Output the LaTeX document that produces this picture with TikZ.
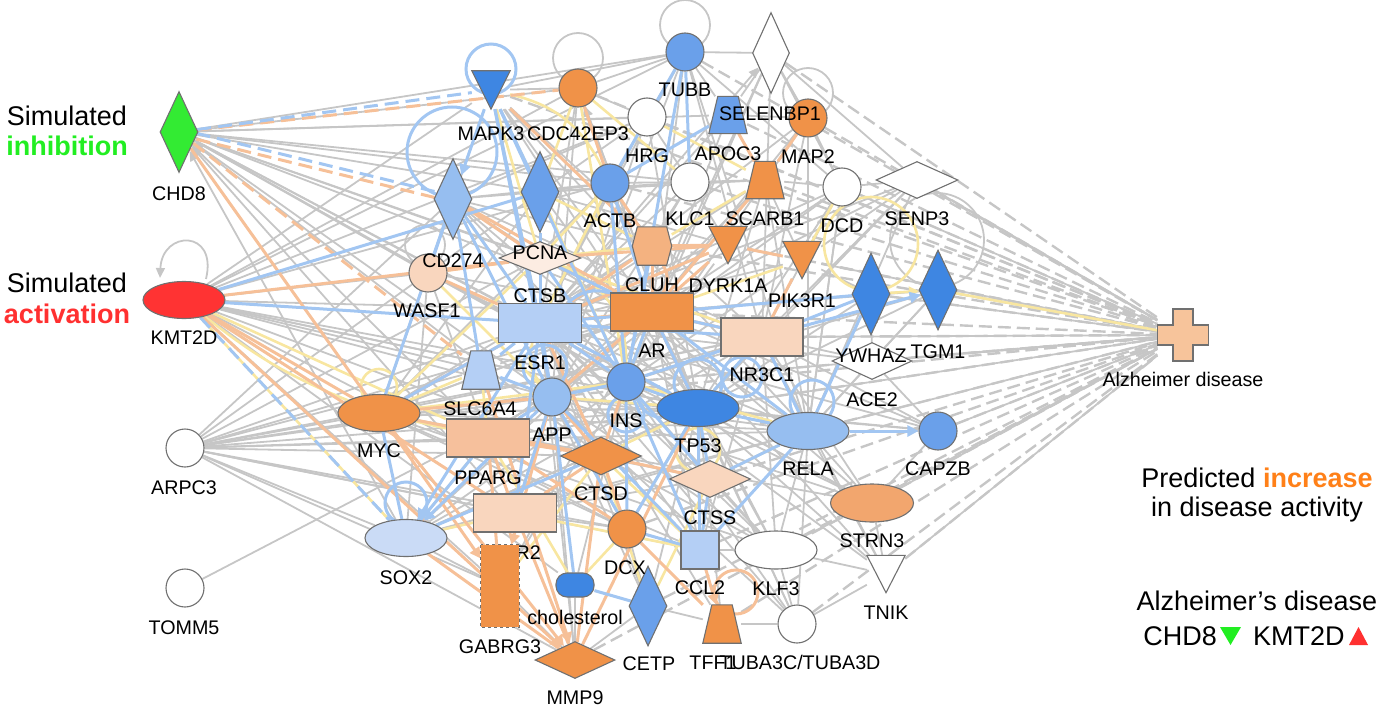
\documentclass[tikz,border=0pt]{standalone}
\usepackage{fontspec}
\setmainfont{Liberation Sans}
\usetikzlibrary{shapes.geometric,arrows.meta,backgrounds,calc}
\definecolor{eg}{RGB}{198,198,198}
\definecolor{eo}{RGB}{246,192,152}
\definecolor{eb}{RGB}{162,198,242}
\definecolor{ey}{RGB}{248,230,160}
\definecolor{ndb}{RGB}{112,112,112}
\definecolor{orD}{RGB}{240,146,72}
\definecolor{orM}{RGB}{244,178,128}
\definecolor{orS}{RGB}{242,166,110}
\definecolor{pch}{RGB}{246,192,156}
\definecolor{pcL}{RGB}{249,214,190}
\definecolor{pcV}{RGB}{252,236,226}
\definecolor{bD}{RGB}{62,134,226}
\definecolor{bM}{RGB}{106,160,234}
\definecolor{bL}{RGB}{150,190,240}
\definecolor{bV}{RGB}{180,207,245}
\definecolor{bX}{RGB}{202,219,246}
\definecolor{gN}{RGB}{51,235,51}
\definecolor{rN}{RGB}{255,51,51}
\definecolor{alzC}{RGB}{247,196,155}
\definecolor{txG}{RGB}{34,238,34}
\definecolor{txR}{RGB}{255,48,48}
\definecolor{txO}{RGB}{255,128,24}
\begin{document}
\begin{tikzpicture}[x=1bp,y=-1bp,
  nd/.style={draw=ndb, line width=1.1bp, inner sep=0pt},
  circ/.style={nd, circle, minimum size=38bp},
  ell/.style={nd, ellipse, minimum width=82bp, minimum height=37bp},
  vdia/.style={nd, diamond, minimum width=38bp, minimum height=81bp},
  hdia/.style={nd, diamond, minimum width=81bp, minimum height=37bp},
  rect/.style={nd, rectangle, minimum width=83bp, minimum height=38bp},
  box/.style={rectangle, inner sep=0pt, minimum width=38bp, minimum height=37bp},
  sh/.style={draw=ndb, line width=1.1bp, line join=miter},
  lbl/.style={font=\fontsize{19.7bp}{23bp}\selectfont, inner sep=0pt, text height=14.1bp, text depth=0pt},
  big/.style={font=\fontsize{27bp}{32bp}\selectfont, inner sep=0pt, text height=19.3bp, text depth=0pt},
  eG/.style={draw=eg, line width=1.8bp},
  eGa/.style={eG, -{Triangle[width=9bp,length=10bp]}},
  eGd/.style={draw=eg, line width=2.4bp, dash pattern=on 13bp off 6bp},
  eO/.style={draw=eo, line width=3bp},
  eOa/.style={eO, -{Triangle[width=11bp,length=11bp]}},
  eOd/.style={eO, dash pattern=on 14bp off 7bp},
  eB/.style={draw=eb, line width=3bp},
  eBa/.style={eB, -{Triangle[width=11bp,length=11bp]}},
  eBd/.style={eB, dash pattern=on 14bp off 7bp},
  eY/.style={draw=ey, line width=2.6bp},
  eYa/.style={eY, -{Triangle[width=10bp,length=10bp]}}
]
\useasboundingbox (0,0) rectangle (1384,712);
% ---------------- nodes ----------------
\node[vdia, fill=gN] (chd8) at (179,132) {};
\node[ell, fill=rN] (kmt2d) at (184,300) {};
\node[circ, fill=white] (arpc3) at (185,448) {};
\node[circ, fill=white] (tomm5) at (185,588) {};
\node[box, minimum width=51bp, minimum height=52bp] (alz) at (1183,335) {};
\node[box, minimum height=38bp] (mapk3) at (491,90) {};
\node[circ, fill=orD] (cdc) at (578,88) {};
\node[circ, fill=bM] (tubb) at (685,52) {};
\node[vdia, fill=white, minimum width=37bp] (selenbp1) at (771,53) {};
\node[box] (apoc3) at (728,115) {};
\node[circ, fill=orD] (map2) at (808,118) {};
\node[circ, fill=white] (hrg) at (647,117) {};
\node[circ, fill=bM] (actb) at (610,183) {};
\node[circ, fill=white] (klc1) at (690,182) {};
\node[box] (scarb1) at (765,180) {};
\node[circ, fill=white] (dcd) at (842,187) {};
\node[hdia, fill=white, minimum width=82bp] (senp3) at (917,180) {};
\node[vdia, fill=bL] (cd274) at (453,199) {};
\node[vdia, fill=bM] (pcna) at (540,192) {};
\node[hdia, fill=pcV, minimum width=82bp, minimum height=33bp] (ctsb) at (540,258) {};
\node[circ, fill=pcL] (wasf1) at (428,273) {};
\node[box, minimum width=39bp, minimum height=38bp] (cluh) at (652,246) {};
\node[rect, fill=orD] (ar) at (652,312) {};
\node[box] (dyrk1a) at (728,245) {};
\node[box] (pik3r1) at (802,260) {};
\node[rect, fill=pcL, minimum width=82bp] (nr3c1) at (762,337) {};
\node[vdia, fill=bD, minimum height=82bp] (ywhaz) at (871,294) {};
\node[vdia, fill=bD, minimum height=80bp] (tgm1) at (938,290) {};
\node[hdia, fill=white, minimum width=80bp] (ace2) at (872,361) {};
\node[rect, fill=bV, minimum height=39bp] (esr1) at (540,323) {};
\node[box, minimum height=38bp] (slc6a4) at (481,370) {};
\node[circ, fill=bL] (app) at (552,397) {};
\node[circ, fill=bM] (ins) at (626,382) {};
\node[ell, fill=bD] (tp53) at (698,408) {};
\node[ell, fill=orD] (myc) at (379,413) {};
\node[rect, fill=pch] (pparg) at (488,438) {};
\node[hdia, fill=orD, minimum height=38bp] (ctsd) at (601,456) {};
\node[ell, fill=bL] (rela) at (808,431) {};
\node[circ, fill=bM] (capzb) at (938,431) {};
\node[hdia, fill=pcL] (ctss) at (710,479) {};
\node[rect, fill=pcL] (esr2) at (515,513) {};
\node[ell, fill=orS, minimum width=83bp, minimum height=38bp] (strn3) at (872,503) {};
\node[ell, fill=bX] (sox2) at (406,538) {};
\node[circ, fill=orD] (dcx) at (627,529) {};
\node[nd, rectangle, minimum size=38bp, fill=bV] (ccl2) at (700,550) {};
\node[ell, fill=white, minimum height=38bp] (klf3) at (776,550) {};
\node[box] (tnik) at (886,574) {};
\node[rectangle, inner sep=0pt, minimum width=38bp, minimum height=82bp] (gabrg3) at (500,586) {};
\node[nd, rectangle, rounded corners=11bp, minimum width=38bp, minimum height=24bp, fill=bD] (chol) at (575,585) {};
\node[vdia, fill=bM, minimum height=80bp] (cetp) at (648,606) {};
\node[box, minimum height=38bp] (tff1) at (722,624) {};
\node[circ, fill=white] (tuba) at (797,624) {};
\node[hdia, fill=orD, minimum width=80bp] (mmp9) at (575,660) {};
% ---------------- edges ----------------
\begin{scope}[on background layer]
% gray solid
\foreach \a/\b in {chd8/tubb,chd8/cdc,chd8/hrg,chd8/actb,chd8/klc1,chd8/apoc3,chd8/pcna,chd8/ctsb,chd8/esr1,chd8/ins,chd8/ar,chd8/tp53,chd8/nr3c1,chd8/wasf1,chd8/pparg,
 kmt2d/mapk3,kmt2d/cdc,kmt2d/tubb,kmt2d/actb,kmt2d/hrg,kmt2d/ar,kmt2d/ins,kmt2d/app,kmt2d/tp53,kmt2d/nr3c1,kmt2d/esr2,kmt2d/ctsd,kmt2d/wasf1,kmt2d/gabrg3,kmt2d/rela,kmt2d/dcx,kmt2d/chol,kmt2d/slc6a4,kmt2d/cluh,
 arpc3/cd274,arpc3/wasf1,arpc3/ctsb,arpc3/esr1,arpc3/slc6a4,arpc3/myc,arpc3/app,arpc3/ins,arpc3/pparg,arpc3/ctsd,arpc3/tp53,arpc3/esr2,arpc3/sox2,arpc3/rela,arpc3/dcx,arpc3/ar,arpc3/ccl2,arpc3/nr3c1,arpc3/gabrg3,arpc3/mmp9,
 tomm5/app,
 esr1/mapk3,esr1/cdc,esr1/tubb,esr1/hrg,esr1/actb,esr1/klc1,esr1/apoc3,esr1/scarb1,esr1/map2,esr1/dyrk1a,esr1/pik3r1,esr1/dcd,esr1/ace2,esr1/ctss,esr1/ccl2,esr1/klf3,esr1/strn3,esr1/dcx,esr1/cetp,esr1/mmp9,esr1/tff1,esr1/tuba,esr1/capzb,esr1/rela,esr1/senp3,
 ar/mapk3,ar/tubb,ar/selenbp1,ar/map2,ar/dcd,ar/senp3,ar/ywhaz,ar/tgm1,ar/rela,ar/capzb,ar/strn3,ar/tnik,ar/klf3,ar/tuba,ar/ccl2,ar/sox2,ar/myc,ar/cd274,ar/wasf1,ar/gabrg3,ar/slc6a4,
 tp53/mapk3,tp53/cdc,tp53/hrg,tp53/actb,tp53/scarb1,tp53/dcd,tp53/senp3,tp53/ywhaz,tp53/tgm1,tp53/capzb,tp53/strn3,tp53/tnik,tp53/klf3,tp53/sox2,tp53/myc,tp53/cd274,tp53/pcna,tp53/wasf1,tp53/cetp,tp53/tff1,tp53/tuba,
 ins/tubb,ins/map2,ins/selenbp1,ins/apoc3,ins/dyrk1a,ins/pik3r1,ins/tgm1,ins/strn3,ins/tnik,ins/klf3,ins/tuba,ins/sox2,ins/cd274,ins/gabrg3,ins/chol,
 app/mapk3,app/cdc,app/hrg,app/tubb,app/klc1,app/scarb1,app/dcd,app/nr3c1,app/rela,app/capzb,app/strn3,app/klf3,app/tuba,app/mmp9,app/cetp,
 myc/mapk3,myc/cd274,myc/pcna,myc/actb,myc/cluh,myc/ar,myc/nr3c1,myc/tp53,myc/rela,myc/ccl2,myc/dcx,myc/ctss,myc/klf3,myc/strn3,
 rela/mapk3,rela/tubb,rela/map2,rela/scarb1,rela/dcd,rela/senp3,rela/ywhaz,rela/tgm1,rela/strn3,rela/tnik,rela/klf3,rela/tuba,rela/ccl2,rela/ctss,rela/sox2,rela/cd274,
 nr3c1/mapk3,nr3c1/tubb,nr3c1/selenbp1,nr3c1/map2,nr3c1/dcd,nr3c1/senp3,nr3c1/tgm1,nr3c1/ace2,nr3c1/capzb,nr3c1/strn3,nr3c1/tnik,nr3c1/klf3,nr3c1/ccl2,nr3c1/sox2,
 cd274/ctsb,cd274/pcna,cd274/actb,cd274/hrg,cd274/cluh,cd274/nr3c1,pcna/actb,pcna/hrg,pcna/cluh,pcna/klc1,pcna/dyrk1a,pcna/scarb1,wasf1/pcna,wasf1/myc,wasf1/sox2,wasf1/esr2,wasf1/ins,
 mapk3/cdc,mapk3/tubb,cdc/hrg,cdc/tubb,hrg/tubb,tubb/selenbp1,tubb/apoc3,selenbp1/apoc3,selenbp1/map2,apoc3/map2,map2/dcd,map2/scarb1,hrg/klc1,klc1/scarb1,actb/klc1,scarb1/dcd,dcd/senp3,senp3/pik3r1,pik3r1/ywhaz,klc1/dyrk1a,cluh/klc1,actb/cluh,scarb1/pik3r1,selenbp1/dcd,selenbp1/senp3,tubb/dcd,
 sox2/esr2,sox2/gabrg3,esr2/dcx,dcx/ccl2,ccl2/klf3,klf3/tuba,tff1/tuba,cetp/tff1,chol/cetp,mmp9/cetp,mmp9/chol,ctss/klf3,dcx/cetp,gabrg3/mmp9,klf3/strn3,strn3/tnik,tnik/klf3,tuba/tnik,capzb/strn3,rela/capzb,ace2/capzb,ace2/rela,ywhaz/ace2,tgm1/ace2,ywhaz/tgm1,ctsd/ctss,ctsd/tp53,ctsd/klf3,pparg/ctsd,pparg/tp53,pparg/ar,esr2/ctss,esr2/rela,sox2/tp53,sox2/ctsd}
  \draw[eG] (\a) -- (\b);
\foreach \a/\b in {myc/chd8,app/chd8,sox2/chd8,esr2/chd8,ctsd/chd8,ar/cdc,tp53/cdc,esr1/selenbp1,rela/dcd,tp53/rela}
  \draw[eGa] (\a) -- (\b);
% gray to disease
\foreach \a in {ywhaz,tgm1,capzb,ace2,senp3,dcd,rela,nr3c1,strn3,pik3r1,tp53,ins,tnik}
  \draw[eG] (\a) -- (alz);
\foreach \a in {tubb,selenbp1,map2,apoc3,cdc,scarb1,dcd,senp3,pik3r1,dyrk1a,ywhaz,tgm1,ace2,nr3c1,ar,klc1,hrg,rela,capzb,strn3,tnik,klf3,tuba,tff1,ccl2,cetp,ctss,tp53,ins,app,dcx,mmp9,mapk3,actb,cluh}
  \draw[eGd] (\a) -- (alz);
% self loops gray
\draw[eG] ([yshift=30bp]cdc.center) circle[radius=25bp];
\draw[eG] ([yshift=27bp]tubb.center) circle[radius=25bp];
\draw[eG] ([yshift=25bp]map2.center) circle[radius=25bp];
\draw[eG] ([xshift=-3bp,yshift=28bp]wasf1.center) circle[radius=20bp];
\draw[eG] ([xshift=20bp,yshift=-60bp]senp3.center) circle[radius=47bp];
\draw[eGa] ([xshift=22bp,yshift=2bp]kmt2d.north) .. controls +(12,-50) and +(2,-48) .. ([xshift=-24bp,yshift=3bp]kmt2d.north);
% yellow
\foreach \a/\b in {kmt2d/pparg,kmt2d/sox2,myc/pparg,ins/tp53,ctss/ccl2,esr1/pcna,mapk3/ctsb,ctsd/cetp,sox2/esr2,app/tp53,cdc/klc1,esr1/ar,app/dcx,pcna/cluh,hrg/scarb1,myc/slc6a4,tp53/ctsd,mapk3/esr1,cdc/pcna,ctsb/nr3c1,wasf1/app,ins/rela,ar/pik3r1,dcd/pik3r1,esr2/ccl2,pparg/chol,
 esr1/actb,ctsb/cluh,ins/ar,tp53/nr3c1,rela/ctss,ctsd/ccl2,ctsb/wasf1,slc6a4/pparg,pparg/app,myc/ctsb,cluh/scarb1,tp53/dcx,ctss/cetp,sox2/pparg,app/esr2,dcx/chol,cd274/esr1,pcna/ins,mapk3/pcna,actb/ctsb,cdc/ins,myc/ins,gabrg3/ctsd}
  \draw[eY] (\a) -- (\b);
\draw[eY] (mapk3) to[bend left=25] (actb);
\draw[eY] (kmt2d) to[bend right=8] (myc);
\draw[eY] (esr1) to[bend right=30] (app);
\draw[eY] (ctsb) to[bend left=35] (ins);
\draw[eYa] (ywhaz) -- (tgm1);
\draw[eY] (tgm1) -- (alz);
\draw[eY] ([yshift=50bp]ywhaz.center) circle[radius=47bp];
\draw[eY] ([yshift=-42bp]tp53.center) circle[radius=22bp];
\draw[eY] ([yshift=26bp]myc.center) circle[radius=18bp];
% orange
\foreach \a/\b in {kmt2d/myc,kmt2d/ctsb,kmt2d/esr2,pparg/gabrg3,esr2/mmp9,ar/cluh,cluh/dyrk1a,dyrk1a/pik3r1,scarb1/apoc3,map2/scarb1,ctsd/dcx,tp53/mmp9,esr1/ctsd,ar/nr3c1,app/ctsd,wasf1/ctsb,myc/ctsd,myc/esr1,ar/esr1,cdc/actb,ar/dyrk1a,ar/scarb1,ctsd/ctss,sox2/mmp9,ar/tp53,ins/ctsd,esr1/cluh,cd274/ar,pparg/esr2,chd8/myc,
 esr2/ctsd,pparg/ctsd,myc/app,ctsb/ar,esr1/dyrk1a,cluh/actb,wasf1/esr1,pparg/dcx,mmp9/ctsd,tff1/dcx,ctsb/dyrk1a,cd274/ctsb,ar/app,mapk3/cluh,nr3c1/pik3r1}
  \draw[eO] (\a) -- (\b);
\foreach \a/\b in {myc/gabrg3,myc/mmp9,ccl2/tff1,kmt2d/mmp9,app/gabrg3,slc6a4/mmp9}
  \draw[eOa] (\a) -- (\b);
\draw[eO] ([xshift=14bp,yshift=32bp]tff1.center) circle[radius=22bp];
\draw[eO] (cluh) to[bend left=30] (ar);
\draw[eOd] (chd8) -- (cdc);
\draw[eOd, transform canvas={yshift=-3bp}] (chd8) -- (cd274);
\draw[eOd] (chd8) -- (slc6a4);
% blue
\foreach \a/\b in {kmt2d/pcna,kmt2d/esr1,mapk3/pcna,mapk3/esr1,tubb/actb,tubb/klc1,apoc3/actb,esr1/app,esr1/ins,ar/ins,tp53/ins,tp53/rela,tp53/nr3c1,ctsb/esr1,myc/sox2,pparg/sox2,ccl2/ctss,dcx/ccl2,cd274/wasf1,nr3c1/ywhaz,tp53/ctss,chol/app,cetp/chol,esr1/cd274,rela/ywhaz,app/ccl2,ins/ccl2,tp53/ccl2,esr1/tp53,actb/ins,cd274/slc6a4,myc/esr1,pcna/esr1,esr1/nr3c1,app/ins,ins/nr3c1,ctsb/ins,ar/rela,esr1/ywhaz,
 ctsb/ar,app/pparg,esr1/slc6a4,slc6a4/app,ins/cluh,tp53/ar,nr3c1/rela,nr3c1/ar,ctss/rela,ins/dcx,app/esr2,ccl2/rela,esr1/esr2,app/cd274,pcna/ctsb,actb/ar,tubb/ins,mapk3/app,mapk3/ins,cd274/myc,sox2/ctsd,app/dcx,tp53/dcx,ins/ctss}
  \draw[eB] (\a) -- (\b);
\foreach \a/\b in {rela/capzb,app/sox2,mapk3/cd274,nr3c1/tgm1,esr1/sox2}
  \draw[eBa] (\a) -- (\b);
\draw[eB] (ins) to[bend right=35] (tp53);
\draw[eB] (esr1) to[bend left=30] (ar);
\draw[eB] ([yshift=21bp]mapk3.center) circle[radius=25bp];
\draw[eB] ([xshift=-39bp,yshift=-62bp]mapk3.center) circle[radius=45bp];
\draw[eB] ([yshift=35bp]sox2.center) circle[radius=21bp];
\draw[eB] ([xshift=4bp,yshift=29bp]rela.center) circle[radius=22bp];
\draw[eB] ([yshift=25bp]tp53.center) circle[radius=24bp];
\draw[eB] ([xshift=5bp,yshift=-44bp]esr1.center) circle[radius=22bp];
\draw[eB] ([xshift=-20bp,yshift=-40bp]nr3c1.center) circle[radius=20bp];
\draw[eB] ([yshift=-32bp]ins.center) circle[radius=18bp];
\draw[eBd] (chd8) -- (mapk3);
\draw[eBd, transform canvas={yshift=3bp}] (chd8) -- (cd274);
\draw[eBd] (kmt2d) -- (sox2);
\end{scope}
% ---------------- custom shapes ----------------
\filldraw[sh, fill=bD] (mapk3.north west) -- (mapk3.north east) -- (mapk3.south) -- cycle;
\filldraw[sh, fill=orD] (dyrk1a.north west) -- (dyrk1a.north east) -- (dyrk1a.south) -- cycle;
\filldraw[sh, fill=orD] (pik3r1.north west) -- (pik3r1.north east) -- (pik3r1.south) -- cycle;
\filldraw[sh, fill=white] (tnik.north west) -- (tnik.north east) -- (tnik.south) -- cycle;
\filldraw[sh, fill=bM] (apoc3.south west) -- (apoc3.south east) -- ([xshift=-9bp]apoc3.north east) -- ([xshift=9bp]apoc3.north west) -- cycle;
\filldraw[sh, fill=orD] (scarb1.south west) -- (scarb1.south east) -- ([xshift=-9bp]scarb1.north east) -- ([xshift=9bp]scarb1.north west) -- cycle;
\filldraw[sh, fill=bV] (slc6a4.south west) -- (slc6a4.south east) -- ([xshift=-9bp]slc6a4.north east) -- ([xshift=9bp]slc6a4.north west) -- cycle;
\filldraw[sh, fill=orD] (tff1.south west) -- (tff1.south east) -- ([xshift=-9bp]tff1.north east) -- ([xshift=9bp]tff1.north west) -- cycle;
\filldraw[sh, fill=orM] ([xshift=5bp]cluh.north west) -- ([xshift=-5bp]cluh.north east) -- (cluh.east) -- ([xshift=-5bp]cluh.south east) -- ([xshift=5bp]cluh.south west) -- (cluh.west) -- cycle;
\begin{scope}[shift={(alz.center)}]
\filldraw[sh, fill=alzC] (-10,-26) -- (10,-26) -- (10,-10) -- (25.5,-10) -- (25.5,10) -- (10,10) -- (10,26) -- (-10,26) -- (-10,10) -- (-25.5,10) -- (-25.5,-10) -- (-10,-10) -- cycle;
\end{scope}
% ---------------- labels ----------------
\foreach \n/\x/\y/\t in {chd8/179/193/CHD8, kmt2d/184/337/KMT2D, arpc3/184/487/ARPC3, tomm5/184/627/TOMM5,
 mapk3/491/133/MAPK3, cdc/578/133/CDC42EP3, tubb/685/89/TUBB, selenbp1/770/113/SELENBP1, apoc3/728/153/APOC3,
 map2/808/156/MAP2, hrg/647/155/HRG, actb/610/220/ACTB, klc1/690/218/KLC1, scarb1/765/218/SCARB1, dcd/842/225/DCD,
 senp3/917/218/SENP3, cd274/453/260/CD274, pcna/540/252/PCNA, ctsb/540/295/CTSB, wasf1/427/310/WASF1, cluh/652/284/CLUH,
 ar/652/350/AR, dyrk1a/728/285/DYRK1A, pik3r1/802/300/PIK3R1, nr3c1/762/374/NR3C1, ywhaz/871/355/YWHAZ, tgm1/938/351/TGM1,
 ace2/872/399/ACE2, esr1/540/362/ESR1, slc6a4/480/408/SLC6A4, app/552/434/APP, ins/626/420/INS, tp53/698/445/TP53,
 myc/379/450/MYC, pparg/488/477/PPARG, ctsd/601/493/CTSD, rela/808/468/RELA, capzb/938/468/CAPZB, ctss/710/517/CTSS,
 esr2/515/552/ESR2, strn3/872/540/STRN3, sox2/406/577/SOX2, dcx/625/567/DCX, ccl2/700/587/CCL2, klf3/776/588/KLF3,
 tnik/886/612/TNIK, gabrg3/500/646/GABRG3, chol/575/617/cholesterol, cetp/649/663/CETP, tff1/713/662/TFF1, mmp9/575/697/MMP9,
 alz/1183/379/Alzheimer disease}
  \node[lbl] (t-\n) at (\x,\y) {\t};
\node[lbl] (t-tuba) at (800,662) {TUBA3C/TUBA3D};
% GABRG3 drawn over the ESR2 label
\filldraw[fill=orD, draw=ndb, line width=1.1bp, dashed] (gabrg3.north west) rectangle (gabrg3.south east);
% ---------------- side texts ----------------
\node[big] (s1) at (67,116) {Simulated};
\node[big, text=txG] (s2) at (67,146) {\bfseries inhibition};
\node[big] (s3) at (67,283) {Simulated};
\node[big, text=txR] (s4) at (67,314) {\bfseries activation};
\node[big] (p1) at (1257,478) {Predicted \textcolor{txO}{\bfseries increase}};
\node[big] (p2) at (1257,507) {in disease activity};
\node[big] (a1) at (1257,601) {Alzheimer’s disease};
\node[big, anchor=east] (a2) at (1217,636) {CHD8};
\node[big, anchor=west] (a3) at (1253,636) {KMT2D};
\fill[txG] (1220,627) -- (1241,627) -- (1230.5,645) -- cycle;
\fill[txR] (1349,645) -- (1368,645) -- (1358.5,627) -- cycle;
\end{tikzpicture}
\end{document}
